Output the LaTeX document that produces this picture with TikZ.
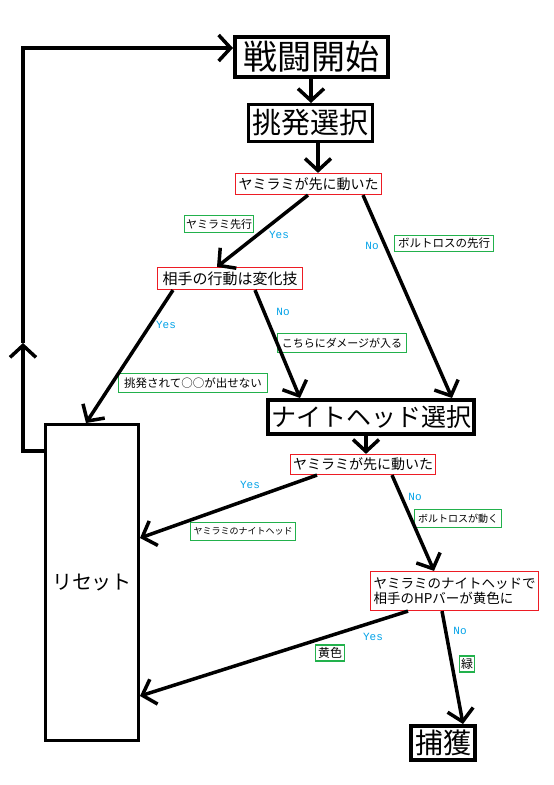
\documentclass[tikz,border=0pt]{standalone}
\usepackage{fontspec}
\newfontfamily\jp{Noto Sans CJK JP}
\newfontfamily\ynfont{Liberation Mono}
\usetikzlibrary{arrows.meta}
\definecolor{pred}{HTML}{ED1C24}
\definecolor{pgreen}{HTML}{22B14C}
\definecolor{pblue}{HTML}{00A2E8}
\newcommand{\fsz}[1]{\fontsize{#1}{#1}\selectfont}
\begin{document}
\begin{tikzpicture}[x=1pt,y=-1pt,
  bigbox/.style={draw, line width=4pt, inner sep=0pt},
  midbox/.style={draw, line width=3pt, inner sep=0pt},
  redbox/.style={draw=pred, line width=1.2pt, inner sep=0pt},
  greenbox/.style={draw=pgreen, line width=1.2pt, inner sep=0pt},
  yn/.style={text=pblue, inner sep=0pt, font={\ynfont\fsz{11}}},
  conn/.style={line width=3.5pt, -{Straight Barb[length=12pt,width=26pt]}},
  plainline/.style={line width=3.5pt}]
\fill[white] (0,0) rectangle (554,785);
\useasboundingbox (0,0) rectangle (554,785);

% main boxes
\node[bigbox, minimum width=153pt, minimum height=40pt, font={\jp\fsz{34}}] (start) at (311.5,57) {戦闘開始};
\node[midbox, minimum width=124pt, minimum height=37pt, font={\jp\fsz{29}}] (taunt) at (310.5,123) {挑発選択};
\node[redbox, minimum width=146pt, minimum height=21pt, font={\jp\fsz{14}}] (q1) at (308.5,184) {ヤミラミが先に動いた};
\node[redbox, minimum width=145pt, minimum height=22pt, font={\jp\fsz{15}}] (q2) at (230,278.5) {相手の行動は変化技};
\node[bigbox, minimum width=206pt, minimum height=34pt, font={\jp\fsz{25}}] (night) at (371,417) {ナイトヘッド選択};
\node[redbox, minimum width=145pt, minimum height=20pt, font={\jp\fsz{14}}] (q3) at (363,464.5) {ヤミラミが先に動いた};
\node[redbox, minimum width=168pt, minimum height=39pt, align=left, font={\jp\fsz{13.5}}] (q4) at (454.5,591) {ヤミラミのナイトヘッドで\\[2pt]相手のHPバーが黄色に};
\node[bigbox, minimum width=64pt, minimum height=34pt, font={\jp\fsz{28}}] (capture) at (443,743) {捕獲};
\node[midbox, minimum width=93pt, minimum height=316pt, font={\jp\fsz{20}}] (reset) at (92,582.5) {リセット};

% green labels
\node[greenbox, minimum width=69pt, minimum height=17pt, font={\jp\fsz{11}}] (g1) at (219,224) {ヤミラミ先行};
\node[greenbox, minimum width=99pt, minimum height=16pt, font={\jp\fsz{11.5}}] (g2) at (444,243.5) {ボルトロスの先行};
\node[greenbox, minimum width=149pt, minimum height=19pt, font={\jp\fsz{11.5}}] (g3) at (193,383) {挑発されて○○が出せない};
\node[greenbox, minimum width=129pt, minimum height=19pt, font={\jp\fsz{11}}] (g4) at (342,343) {こちらにダメージが入る};
\node[greenbox, minimum width=105pt, minimum height=18pt, font={\jp\fsz{9}}] (g5) at (243,531.5) {ヤミラミのナイトヘッド};
\node[greenbox, minimum width=87pt, minimum height=18pt, font={\jp\fsz{10}}] (g6) at (458,518.5) {ボルトロスが動く};
\node[greenbox, minimum width=29pt, minimum height=16pt, font={\jp\fsz{12}}] (g7) at (330,653) {黄色};
\node[greenbox, minimum width=15pt, minimum height=16pt, font={\jp\fsz{12}}] (g8) at (467,664) {緑};

% yes / no labels
\node[yn] (y1) at (279,235) {Yes};
\node[yn] (n1) at (372,246) {No};
\node[yn] (y2) at (166,325) {Yes};
\node[yn] (n2) at (283,312) {No};
\node[yn] (y3) at (250,485) {Yes};
\node[yn] (n3) at (415,497) {No};
\node[yn] (y4) at (373,637) {Yes};
\node[yn] (n4) at (460,631) {No};

% connectors
\draw[conn] (311,0 |- start.south) -- (311,0 |- taunt.north);
\draw[conn] (318,0 |- taunt.south) -- (318,0 |- q1.north);
\draw[conn] (308,0 |- q1.south) -- (217,0 |- q2.north);
\draw[conn] (363,0 |- q1.south) -- (452,0 |- night.north);
\draw[conn] (173,0 |- q2.south) -- (86,0 |- reset.north);
\draw[conn] (255,0 |- q2.south) -- (300,0 |- night.north);
\draw[conn] (366,0 |- night.south) -- (366,0 |- q3.north);
\draw[conn] (317,0 |- q3.south) -- (reset.east |- 0,538);
\draw[conn] (392,0 |- q3.south) -- (434,0 |- q4.north);
\draw[conn] (408,0 |- q4.south) -- (reset.east |- 0,696);
\draw[conn] (442,0 |- q4.south) -- (463,0 |- capture.north);

% feedback loop
\coordinate (fbmid) at (23,343);
\draw[conn] (reset.west |- 0,451) -- (23,451) -- (fbmid);
\draw[conn] (fbmid) -- (23,48) -- (start.west |- 0,48);
\end{tikzpicture}
\end{document}
